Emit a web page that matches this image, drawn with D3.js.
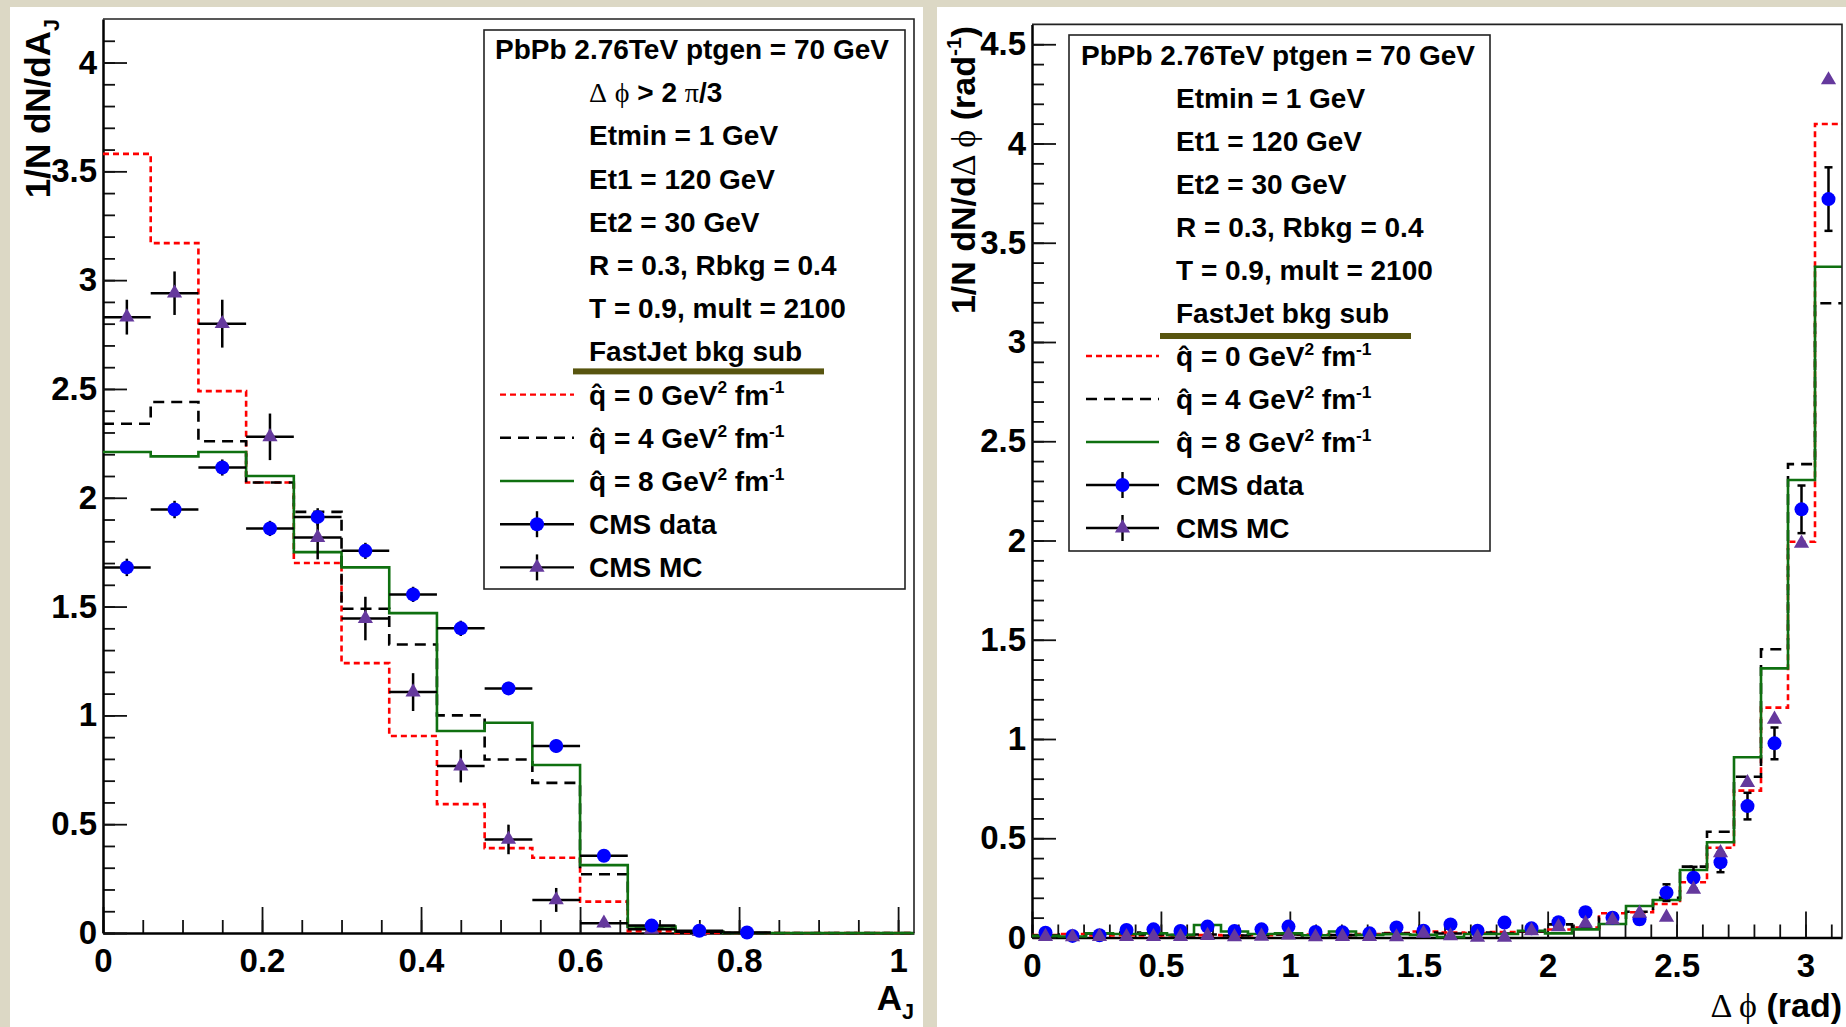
<!DOCTYPE html>
<html>
<head>
<meta charset="utf-8">
<script src="https://cdn.jsdelivr.net/npm/d3@7"></script>
<style>
  html, body { margin: 0; padding: 0; background: #dcd8c5; }
  svg { display: block; }
  text { font-family: "Liberation Sans", Arial, sans-serif; font-weight: bold; fill: #000; }
  .sym { font-family: "Liberation Serif", "DejaVu Serif", serif; font-weight: normal; }
</style>
</head>
<body>
<svg id="plots" width="1846" height="1027"></svg>
<script>
// ---- A_J panel: 17 bins of 0.06 ----
const ajEdges = [0, 0.06, 0.12, 0.18, 0.24, 0.30, 0.36, 0.42, 0.48, 0.54, 0.60, 0.66, 0.72, 0.78, 0.84, 0.90, 0.96, 1.02];
const ajQ0 = [3.58, 3.17, 2.49, 2.07, 1.70, 1.24, 0.905, 0.592, 0.39, 0.346, 0.144, 0.008, 0, 0, 0, 0, 0];
const ajQ4 = [2.34, 2.44, 2.26, 2.07, 1.935, 1.49, 1.326, 1.0, 0.797, 0.69, 0.27, 0.02, 0.006, 0, 0, 0, 0];
const ajQ8 = [2.21, 2.19, 2.21, 2.10, 1.75, 1.68, 1.47, 0.928, 0.966, 0.772, 0.312, 0.03, 0.006, 0, 0, 0, 0];
const ajData = [1.68, 1.946, 2.139, 1.859, 1.912, 1.756, 1.556, 1.40, 1.124, 0.859, 0.355, 0.034, 0.01, 0.002];
const ajDataErr = [0.04, 0.04, 0.037, 0.035, 0.04, 0.037, 0.035, 0.035, 0.03, 0.03, 0.02, 0.01, 0.005, 0.003];
const ajMC = [2.83, 2.94, 2.80, 2.28, 1.817, 1.445, 1.107, 0.767, 0.43, 0.152, 0.045, 0.017, 0.006];
const ajMCErr = [0.08, 0.1, 0.11, 0.107, 0.1, 0.1, 0.087, 0.075, 0.068, 0.055, 0.02, 0.01, 0.005];
const ajXTicks = [0, 0.2, 0.4, 0.6, 0.8, 1];
const ajYTicks = [0, 0.5, 1, 1.5, 2, 2.5, 3, 3.5, 4];

// ---- delta phi panel: 30 bins of pi/30 ----
const dphiBins = 30;
const dphiQ0 = [0.012, 0.018, 0.01, 0.012, 0.01, 0.01, 0.012, 0.01, 0.012, 0.015, 0.015, 0.012, 0.018, 0.022, 0.03,
                0.025, 0.022, 0.028, 0.03, 0.04, 0.05, 0.122, 0.127, 0.169, 0.278, 0.452, 0.74, 1.158, 1.994, 4.098];
const dphiQ4 = [0.01, 0.015, 0.02, 0.025, 0.015, 0.012, 0.015, 0.01, 0.012, 0.015, 0.01, 0.012, 0.015, 0.02, 0.025,
                0.02, 0.025, 0.02, 0.03, 0.066, 0.05, 0.1, 0.13, 0.2, 0.357, 0.533, 0.81, 1.452, 2.385, 3.195];
const dphiQ8 = [0.008, 0.005, 0.021, 0.018, 0.021, 0.013, 0.063, 0.03, 0.018, 0.021, 0.011, 0.03, 0.013, 0.016, 0.013,
                0.002, 0.018, 0.018, 0.034, 0.021, 0.041, 0.068, 0.159, 0.189, 0.34, 0.48, 0.908, 1.356, 2.305, 3.379];
const dphiData = [0.024, 0.008, 0.011, 0.038, 0.041, 0.033, 0.055, 0.033, 0.041, 0.055, 0.028, 0.026, 0.021, 0.051, 0.034,
                  0.066, 0.034, 0.075, 0.046, 0.077, 0.127, 0.1, 0.092, 0.226, 0.301, 0.379, 0.662, 0.978, 2.157, 3.72];
const dphiDataErr = [0.015, 0.012, 0.012, 0.015, 0.015, 0.015, 0.016, 0.015, 0.015, 0.016, 0.015, 0.015, 0.015, 0.016, 0.016,
                     0.017, 0.016, 0.018, 0.018, 0.02, 0.022, 0.022, 0.024, 0.042, 0.055, 0.05, 0.067, 0.08, 0.12, 0.16];
const dphiMC = [0.005, 0.003, 0.005, 0.004, 0.004, 0.004, 0.01, 0.003, 0.006, 0.012, 0.003, 0.005, 0.004, 0.003, 0.021,
                0.008, 0.001, 0.001, 0.034, 0.054, 0.071, 0.088, 0.122, 0.102, 0.243, 0.427, 0.78, 1.099, 1.986, 4.32];
const dphiXTicks = [0, 0.5, 1, 1.5, 2, 2.5, 3];
const dphiYTicks = [0, 0.5, 1, 1.5, 2, 2.5, 3, 3.5, 4, 4.5];

// ---- legend texts ----
const headerText = 'PbPb 2.76TeV ptgen = 70 GeV';
const cutLines = ['Etmin = 1 GeV', 'Et1 = 120 GeV', 'Et2 = 30 GeV', 'R = 0.3, Rbkg = 0.4', 'T = 0.9, mult = 2100', 'FastJet bkg sub'];
const qhatValues = ['0', '4', '8'];

const styles = {
  q0: { color: '#ff0000', dash: '6,4' },
  q4: { color: '#000000', dash: '11,7' },
  q8: { color: '#0f7010', dash: null },
};
const blue = '#0000ff';
const purple = '#65399d';

d3.selection.prototype.attrs = function (o) {
  Object.entries(o).forEach(([k, v]) => this.attr(k, v));
  return this;
};

main();

function main () {
  const svg = d3.select('svg#plots');

  // panels (white canvases on the beige page)
  svg.append('rect').attrs({ x: 10, y: 7, width: 913, height: 1020, fill: '#fff' });
  svg.append('rect').attrs({ x: 937, y: 7, width: 909, height: 1020, fill: '#fff' });

  // left : A_J
  const xL = d3.scaleLinear([0, 1.02], [103, 914]);
  const yL = d3.scaleLinear([0, 4.2], [933, 19]);
  const gL = svg.append('g');
  drawAxes(gL, xL, yL, {
    xTicks: ajXTicks, xMinor: d3.range(0, 1.02, 0.05), yTicks: ajYTicks, yMinor: d3.range(0, 4.2, 0.1)
  });
  drawHist(gL, xL, yL, ajEdges, ajQ0, styles.q0);
  drawHist(gL, xL, yL, ajEdges, ajQ4, styles.q4);
  drawHist(gL, xL, yL, ajEdges, ajQ8, styles.q8);
  const ajCenters = ajEdges.slice(0, -1).map((e, i) => (e + ajEdges[i + 1]) / 2);
  drawPoints(gL, xL, yL, ajCenters, ajMC, ajMCErr, 0.03, 'tri', false);
  drawPoints(gL, xL, yL, ajCenters, ajData, ajDataErr, 0.03, 'dot', false);
  drawFrame(gL, xL, yL);

  gL.append('text').attrs({ transform: 'translate(50,19) rotate(-90)', 'text-anchor': 'end', 'font-size': 35 })
    .call(rich, [{ t: '1/N dN/dA' }, { t: 'J', sub: true }], 35);
  gL.append('text').attrs({ x: 914, y: 1010, 'text-anchor': 'end', 'font-size': 35 })
    .call(rich, [{ t: 'A' }, { t: 'J', sub: true }], 35);

  drawLegend(gL, {
    box: [484, 30, 905, 589], row0: 59, step: 43.2, headX: 495, textX: 589, symX: [500, 574], barDy: 10,
    lines: [[{ t: 'Δ', sym: true }, { t: ' ' }, { t: 'ϕ', sym: true }, { t: ' > 2 ' }, { t: 'π', sym: true }, { t: '/3' }]]
      .concat(cutLines.map(s => [{ t: s }]))
  });

  // right : delta phi
  const xR = d3.scaleLinear([0, Math.PI], [1032, 1842]);
  const yR = d3.scaleLinear([0, 4.6], [937.5, 24.4]);
  const gR = svg.append('g');
  drawAxes(gR, xR, yR, {
    xTicks: dphiXTicks, xMinor: d3.range(0, 3.15, 0.1), yTicks: dphiYTicks, yMinor: d3.range(0, 4.6, 0.1)
  });
  const dphiEdges = d3.range(dphiBins + 1).map(i => i * Math.PI / dphiBins);
  drawHist(gR, xR, yR, dphiEdges, dphiQ0, styles.q0);
  drawHist(gR, xR, yR, dphiEdges, dphiQ4, styles.q4);
  drawHist(gR, xR, yR, dphiEdges, dphiQ8, styles.q8);
  const dphiCenters = dphiEdges.slice(0, -1).map((e, i) => (e + dphiEdges[i + 1]) / 2);
  drawPoints(gR, xR, yR, dphiCenters, dphiData, dphiDataErr, 0, 'dot', true);
  drawPoints(gR, xR, yR, dphiCenters, dphiMC, null, 0, 'tri', false);
  drawFrame(gR, xR, yR);

  gR.append('text').attrs({ transform: 'translate(975,26) rotate(-90)', 'text-anchor': 'end', 'font-size': 34 })
    .call(rich, [{ t: '1/N dN/d' }, { t: 'Δ ϕ', sym: true }, { t: ' (rad' }, { t: '-1', sup: true }, { t: ')' }], 34);
  gR.append('text').attrs({ x: 1842, y: 1017, 'text-anchor': 'end', 'font-size': 34 })
    .call(rich, [{ t: 'Δ ϕ', sym: true }, { t: ' (rad)' }], 34);

  drawLegend(gR, {
    box: [1069, 35, 1490, 551], row0: 65, step: 43, headX: 1081, textX: 1176, symX: [1086, 1159], barDy: 13,
    lines: cutLines.map(s => [{ t: s }])
  });
}

function rich (sel, parts, size) {
  let shift = 0;
  parts.forEach(p => {
    const target = p.sup ? -0.4 * size : p.sub ? 0.25 * size : 0;
    const ts = sel.append('tspan').text(p.t).attr('dy', target - shift);
    shift = target;
    if (p.sup || p.sub) ts.attr('font-size', size * 0.62);
    if (p.sym) ts.attr('class', 'sym');
  });
}

function drawAxes (g, x, y, o) {
  const [bottom, top] = y.range();
  const [left, right] = x.range();
  const minorX = g.append('g').attr('transform', `translate(0,${bottom})`)
    .call(d3.axisBottom(x).tickValues(o.xMinor).tickSize(-13).tickFormat(''));
  const minorY = g.append('g').attr('transform', `translate(${left},0)`)
    .call(d3.axisLeft(y).tickValues(o.yMinor).tickSize(-12).tickFormat(''));
  minorX.select('.domain').remove();
  minorY.select('.domain').remove();
  const ax = g.append('g').attr('transform', `translate(0,${bottom})`)
    .call(d3.axisBottom(x).tickValues(o.xTicks).tickSizeInner(-26).tickSizeOuter(0).tickPadding(16).tickFormat(d => String(d)));
  const ay = g.append('g').attr('transform', `translate(${left},0)`)
    .call(d3.axisLeft(y).tickValues(o.yTicks).tickSizeInner(-24).tickSizeOuter(0).tickPadding(6).tickFormat(d => String(d)));
  [minorX, minorY, ax, ay].forEach(a => {
    a.attr('font-size', 33);
    a.selectAll('line').attr('stroke', '#111').attr('stroke-width', 1.8);
  });
  ax.select('.domain').attr('stroke-width', 2.5);
  ay.select('.domain').attr('stroke-width', 2.5);
}

function drawFrame (g, x, y) {
  const [bottom, top] = y.range();
  const [left, right] = x.range();
  g.append('path').attrs({
    d: `M${left},${top}H${right}V${bottom}`,
    fill: 'none', stroke: '#222', 'stroke-width': 1.6
  });
}

function drawHist (g, x, y, edges, values, style) {
  const pts = [];
  values.forEach((v, i) => {
    pts.push([x(edges[i]), y(v)]);
    pts.push([x(edges[i + 1]), y(v)]);
  });
  g.append('path').attrs({
    d: d3.line()(pts), fill: 'none', stroke: style.color, 'stroke-width': 2.6,
    'stroke-dasharray': style.dash || 'none'
  });
}

function drawPoints (g, x, y, centers, values, errs, halfWidth, marker, caps) {
  values.forEach((v, i) => {
    const cx = x(centers[i]);
    const cy = y(v);
    if (halfWidth > 0) {
      g.append('line').attrs({ x1: x(centers[i] - halfWidth), x2: x(centers[i] + halfWidth), y1: cy, y2: cy, stroke: '#000', 'stroke-width': 2.5 });
    }
    if (errs) {
      const y1 = y(v - errs[i]);
      const y2 = y(v + errs[i]);
      g.append('line').attrs({ x1: cx, x2: cx, y1: y1, y2: y2, stroke: '#000', 'stroke-width': 2.5 });
      if (caps) {
        [y1, y2].forEach(yy => g.append('line').attrs({ x1: cx - 4, x2: cx + 4, y1: yy, y2: yy, stroke: '#000', 'stroke-width': 2.5 }));
      }
    }
    drawMarker(g, cx, cy, marker);
  });
}

function drawMarker (g, cx, cy, marker) {
  if (marker === 'dot') {
    g.append('circle').attrs({ cx: cx, cy: cy, r: 7, fill: blue });
  } else {
    g.append('path').attrs({
      d: d3.symbol().type(d3.symbolTriangle).size(100)(),
      transform: `translate(${cx},${cy})`, fill: purple
    });
  }
}

function drawLegend (g, o) {
  const [x0, y0, x1, y1] = o.box;
  g.append('rect').attrs({ x: x0, y: y0, width: x1 - x0, height: y1 - y0, fill: '#fff', stroke: '#222', 'stroke-width': 1.6 });
  const row = i => o.row0 + i * o.step;
  g.append('text').attrs({ x: o.headX, y: row(0), 'font-size': 28 }).text(headerText);
  o.lines.forEach((parts, i) => {
    g.append('text').attrs({ x: o.textX, y: row(i + 1), 'font-size': 28 }).call(rich, parts, 28);
  });
  const fastJetRow = row(o.lines.length);
  g.append('rect').attrs({ x: o.textX - 16, y: fastJetRow + o.barDy - 3, width: 251, height: 6, fill: '#58550f' });

  const first = o.lines.length + 1;
  const [sx0, sx1] = o.symX;
  const sxc = (sx0 + sx1) / 2;
  qhatValues.forEach((q, k) => {
    const by = row(first + k);
    const st = styles['q' + q];
    g.append('line').attrs({ x1: sx0, x2: sx1, y1: by - 10, y2: by - 10, stroke: st.color, 'stroke-width': 2.4, 'stroke-dasharray': st.dash || 'none' });
    g.append('text').attrs({ x: o.textX, y: by, 'font-size': 28 })
      .call(rich, [{ t: 'q\u0302 = ' + q + ' GeV' }, { t: '2', sup: true }, { t: ' fm' }, { t: '-1', sup: true }], 28);
  });
  [['CMS data', 'dot'], ['CMS MC', 'tri']].forEach(([label, marker], k) => {
    const by = row(first + 3 + k);
    g.append('line').attrs({ x1: sx0, x2: sx1, y1: by - 10, y2: by - 10, stroke: '#000', 'stroke-width': 2.4 });
    g.append('line').attrs({ x1: sxc, x2: sxc, y1: by - 23, y2: by + 3, stroke: '#000', 'stroke-width': 2.4 });
    drawMarker(g, sxc, by - 10, marker);
    g.append('text').attrs({ x: o.textX, y: by, 'font-size': 28 }).text(label);
  });
}
</script>
</body>
</html>
